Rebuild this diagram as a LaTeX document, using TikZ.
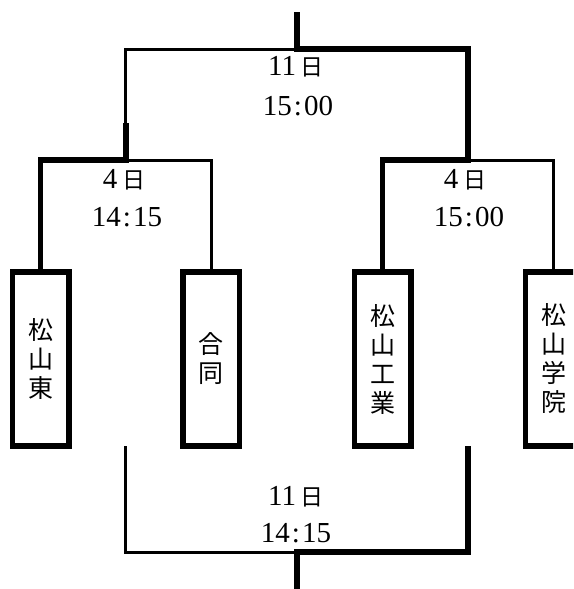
\documentclass[tikz,border=0pt]{standalone}
\usepackage{fontspec}
\setmainfont{Liberation Serif}
\newfontfamily\jp{Noto Sans CJK JP}
\newcommand{\hi}{{\jp\fontsize{23pt}{24pt}\selectfont 日}}
\begin{document}
\begin{tikzpicture}[x=1pt,y=-1pt,
  thk/.style={line width=5.5pt,line join=miter},
  thn/.style={line width=3pt,line join=miter},
  team/.style={draw,line width=5.5pt,minimum width=56.5pt,minimum height=174pt,inner sep=0pt,
    font=\jp\fontsize{25pt}{29pt}\selectfont,align=center},
  lbl/.style={inner sep=0pt,font=\fontsize{29pt}{30pt}\selectfont}]
\useasboundingbox (0,0) rectangle (573,589);
\clip (0,0) rectangle (573,589);
% teams
\node[team] (b1) at (40.5,359) {松\\山\\東};
\node[team] (b2) at (211,359) {合\\同};
\node[team] (b3) at (382.5,359) {松\\山\\工\\業};
\node[team] (b4) at (553.5,359) {松\\山\\学\\院};
% coordinates
\coordinate (top) at (297,12);
\coordinate (tj) at (297,49);
\coordinate (tl) at (125.75,49);
\coordinate (tr) at (468,49);
\coordinate (lm) at (125.75,123);
\coordinate (lj) at (125.75,160);
\coordinate (rj) at (468,160);
\coordinate (bl) at (125.75,446);
\coordinate (br) at (468,446);
\coordinate (bj) at (297,552);
\coordinate (bot) at (297,589);
% upper bracket
\draw[thk] (b1.north) |- (lj) -- (lm);
\draw[thn] (lm) -- (tl) -- (tj);
\draw[thn] (b2.north) |- (lj);
\draw[thk] (b3.north) |- (rj) -- (tr) -- (tj) -- (top);
\draw[thn] (b4.north) |- (rj);
% lower bracket
\draw[thn] (bl) |- (bj);
\draw[thk] (br) |- (bj) -- (bot);
% labels
\node[lbl] (d1) at (296,67) {11\,\hi};
\node[lbl] (h1) at (298,106) {15\hspace{2pt}:\hspace{2pt}00};
\node[lbl] (d2) at (124,180) {4\,\hi};
\node[lbl] (h2) at (127,217) {14\hspace{2pt}:\hspace{2pt}15};
\node[lbl] (d3) at (465,180) {4\,\hi};
\node[lbl] (h3) at (469,217) {15\hspace{2pt}:\hspace{2pt}00};
\node[lbl] (d4) at (296,497) {11\,\hi};
\node[lbl] (h4) at (296,533) {14\hspace{2pt}:\hspace{2pt}15};
\end{tikzpicture}
\end{document}
